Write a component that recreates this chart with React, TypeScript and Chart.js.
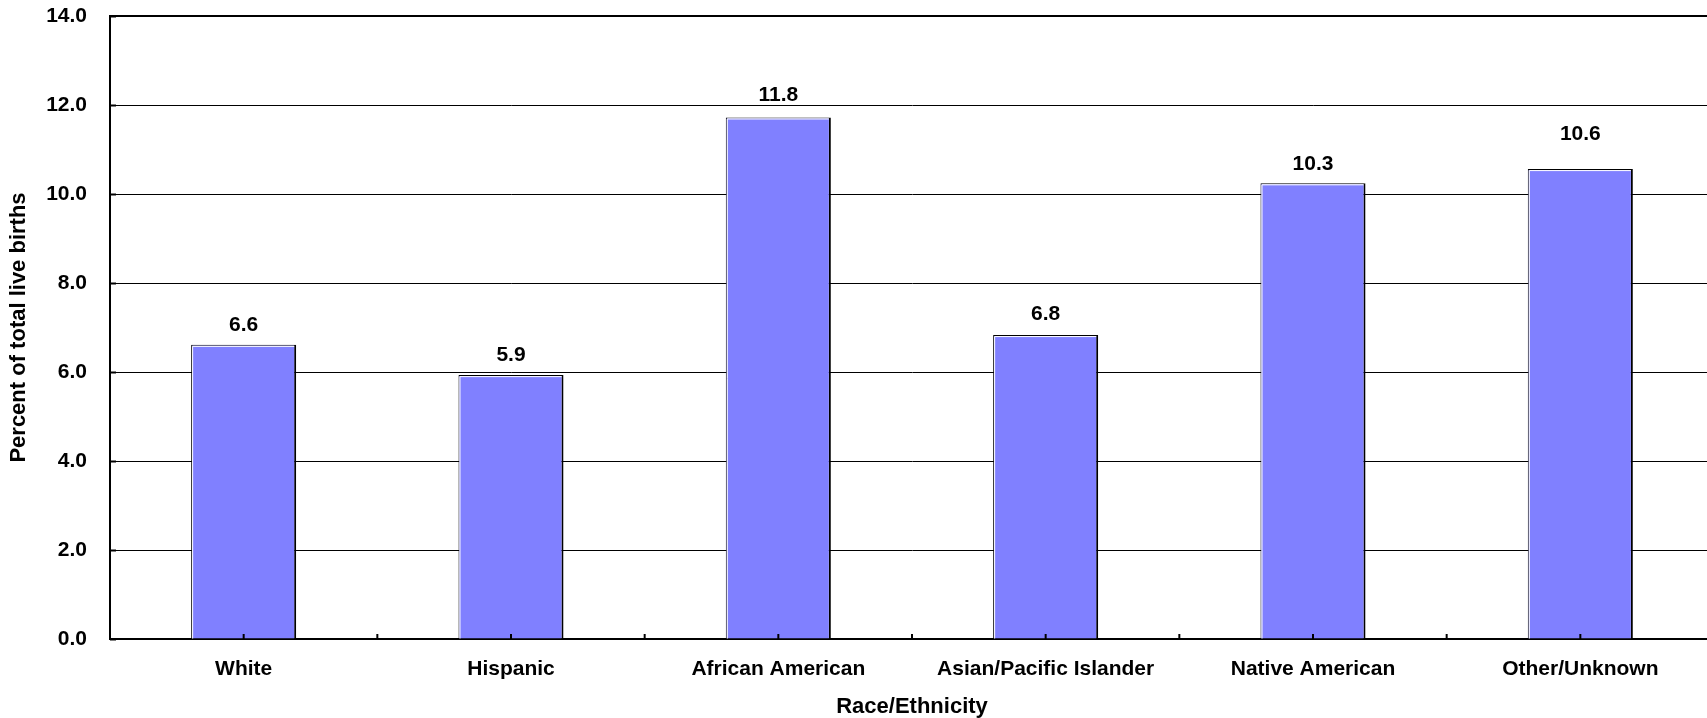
import React, { useEffect, useRef } from "react";
import { Chart, registerables } from "chart.js";

Chart.register(...registerables);

const CATEGORIES = [
  "White",
  "Hispanic",
  "African American",
  "Asian/Pacific Islander",
  "Native American",
  "Other/Unknown",
];
const VALUES = [6.61, 5.93, 11.72, 6.83, 10.24, 10.56];
const VALUE_LABELS = ["6.6", "5.9", "11.8", "6.8", "10.3", "10.6"];
const Y_TICKS = [0, 2, 4, 6, 8, 10, 12, 14];
const X_TITLE = "Race/Ethnicity";
const Y_TITLE = "Percent of total live births";

// label distance above each bar top (px)
const LABEL_OFFSETS = [20, 20, 22, 21, 19, 35];

const FONT = "'Liberation Sans', Arial, Helvetica, sans-serif";
const BAR_COLOR = "#8080FF";

const CANVAS_W = 1720;
const CANVAS_H = 718;

const decorPlugin = {
  id: "decor",
  afterDatasetsDraw(chart: any) {
    const { ctx, chartArea, scales } = chart;
    const meta = chart.getDatasetMeta(0);
    ctx.save();
    // white inner highlight on bars
    meta.data.forEach((bar: any) => {
      const { x, y, base, width } = bar.getProps(["x", "y", "base", "width"], true);
      const left = x - width / 2;
      const right = x + width / 2;
      ctx.strokeStyle = "#ffffff";
      ctx.lineWidth = 1;
      ctx.beginPath();
      ctx.moveTo(left + 1.5, base);
      ctx.lineTo(left + 1.5, y + 1.5);
      ctx.lineTo(right - 2, y + 1.5);
      ctx.stroke();
    });
    // x tick marks (centers and boundaries), pointing inward
    const xs = scales.x;
    const half = (xs.getPixelForValue(1) - xs.getPixelForValue(0)) / 2;
    ctx.strokeStyle = "#000";
    ctx.lineWidth = 2;
    for (let i = 0; i < CATEGORIES.length; i++) {
      const c = xs.getPixelForValue(i);
      [c, c + half].forEach((px) => {
        ctx.beginPath();
        ctx.moveTo(px, chartArea.bottom);
        ctx.lineTo(px, chartArea.bottom - 5);
        ctx.stroke();
      });
    }
    // y tick marks inward
    const ys = scales.y;
    Y_TICKS.forEach((v) => {
      const py = Math.round(ys.getPixelForValue(v)) + 0.5;
      ctx.beginPath();
      ctx.moveTo(chartArea.left, py);
      ctx.lineTo(chartArea.left + 6, py);
      ctx.stroke();
    });
    // value labels
    ctx.fillStyle = "#000";
    ctx.font = `bold 21px ${FONT}`;
    ctx.textAlign = "center";
    ctx.textBaseline = "middle";
    meta.data.forEach((bar: any, i: number) => {
      ctx.fillText(VALUE_LABELS[i], bar.x, bar.y - LABEL_OFFSETS[i]);
    });
    ctx.restore();
  },
};

export default function App() {
  const canvasRef = useRef<HTMLCanvasElement | null>(null);

  useEffect(() => {
    const canvas = canvasRef.current;
    if (!canvas) return;
    const chart = new Chart(canvas, {
      type: "bar",
      data: {
        labels: CATEGORIES,
        datasets: [
          {
            data: VALUES,
            backgroundColor: BAR_COLOR,
            borderColor: "#000000",
            borderWidth: { top: 1, left: 1, right: 2, bottom: 0 } as any,
            borderSkipped: false as any,
            categoryPercentage: 1,
            barPercentage: 0.393,
          },
        ],
      },
      options: {
        responsive: false,
        animation: false,
        devicePixelRatio: 1,
        layout: { padding: { top: 16, right: 6, left: 0, bottom: 0 } },
        plugins: {
          legend: { display: false },
          tooltip: { enabled: false },
          title: { display: false },
        },
        scales: {
          x: {
            type: "category",
            offset: true,
            grid: { display: false, drawTicks: false },
            border: { display: true, color: "#000", width: 2 },
            ticks: {
              color: "#000",
              font: { family: FONT, size: 21, weight: "bold" },
              padding: 18,
              maxRotation: 0,
              autoSkip: false,
            },
            title: {
              display: true,
              text: X_TITLE,
              color: "#000",
              font: { family: FONT, size: 22, weight: "bold", lineHeight: 1 },
              padding: { top: 0, bottom: 0 },
            },
            afterFit: (scale: any) => {
              scale.height = 79;
              scale.paddingLeft = 0;
              scale.paddingRight = 0;
            },
          },
          y: {
            min: 0,
            max: 14,
            afterBuildTicks: (scale: any) => {
              scale.ticks = Y_TICKS.map((v) => ({ value: v }));
            },
            grid: {
              color: "#000",
              lineWidth: (c: any) => (c.tick && c.tick.value === 14 ? 2 : 1),
              drawTicks: false,
            },
            border: { display: true, color: "#000", width: 2 },
            ticks: {
              color: "#000",
              font: { family: FONT, size: 21, weight: "bold" },
              padding: 23,
              callback: (v: any) => Number(v).toFixed(1),
            },
            title: {
              display: true,
              text: Y_TITLE,
              color: "#000",
              font: { family: FONT, size: 22, weight: "bold", lineHeight: 1.2 },
              padding: { top: 6, bottom: 0 },
            },
            afterFit: (scale: any) => {
              scale.width = 110;
              scale.paddingTop = 0;
              scale.paddingBottom = 0;
            },
          },
        },
      },
      plugins: [decorPlugin],
    });
    return () => chart.destroy();
  }, []);

  return (
    <div
      style={{
        position: "fixed",
        left: 0,
        top: 0,
        width: 1707,
        height: 718,
        overflow: "hidden",
        background: "#fff",
      }}
    >
      <canvas
        ref={canvasRef}
        width={CANVAS_W}
        height={CANVAS_H}
        style={{ width: CANVAS_W, height: CANVAS_H, display: "block" }}
      />
    </div>
  );
}
